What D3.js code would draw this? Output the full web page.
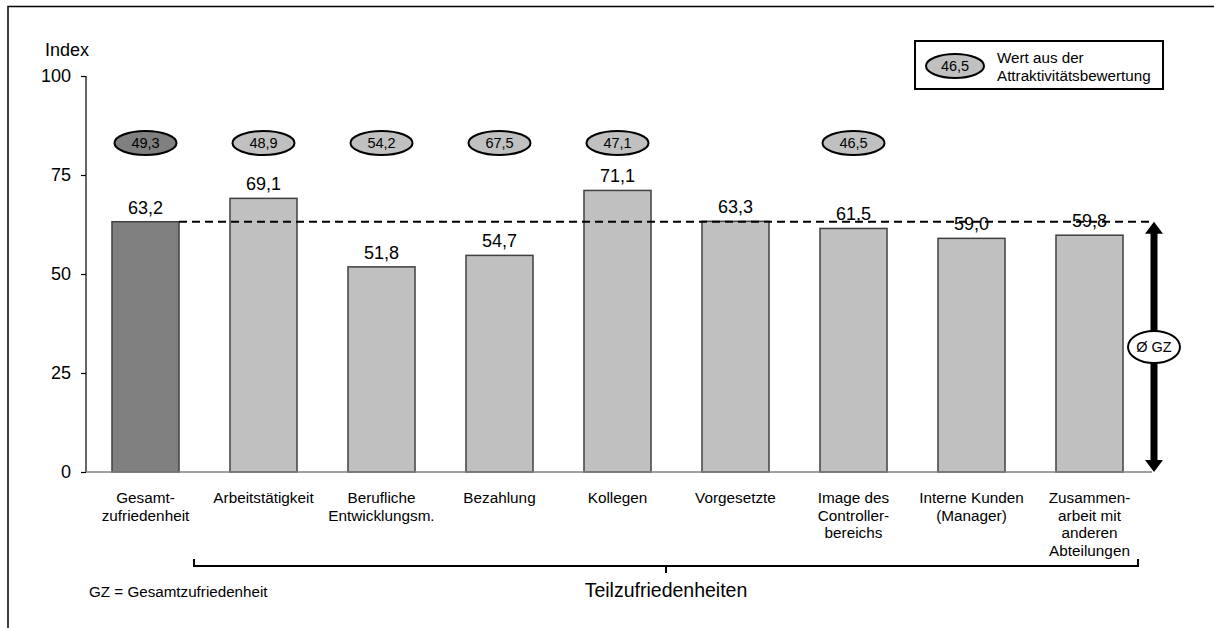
<!DOCTYPE html>
<html><head><meta charset="utf-8">
<script src="https://cdn.jsdelivr.net/npm/d3@7"></script>
<style>body{margin:0;background:#fff;} svg{display:block;font-family:"Liberation Sans",Arial,sans-serif;}</style>
</head><body>
<svg id="c" width="1214" height="628"></svg>
<script>
const categories = [
  ["Gesamt-","zufriedenheit"],
  ["Arbeitstätigkeit"],
  ["Berufliche","Entwicklungsm."],
  ["Bezahlung"],
  ["Kollegen"],
  ["Vorgesetzte"],
  ["Image des","Controller-","bereichs"],
  ["Interne Kunden","(Manager)"],
  ["Zusammen-","arbeit mit","anderen","Abteilungen"]
];
const keys = categories.map(c => c.join(" "));
const satisfaction = [63.2, 69.1, 51.8, 54.7, 71.1, 63.3, 61.5, 59.0, 59.8];
const attractiveness = [49.3, 48.9, 54.2, 67.5, 47.1, null, 46.5, null, null];
const yTicks = [0, 25, 50, 75, 100];
const avgGZ = 63.2;
const legendValue = 46.5;

const fmt = v => v.toFixed(1).replace(".", ",");
const svg = d3.select("#c");

const x = d3.scaleBand().domain(keys).range([86.5, 1148.5]).paddingInner(0.432).paddingOuter(0.216);
const y = d3.scaleLinear().domain([0, 100]).range([472, 76]);

// frame (left + top)
svg.append("path").attr("d","M8,628 V6.5 H1214").attr("fill","none").attr("stroke","#000").attr("stroke-width",1.5);

// axis
const yAxis = svg.append("g").attr("transform","translate(86,0)")
  .call(d3.axisLeft(y).tickValues(yTicks).tickSize(5).tickPadding(10).tickFormat(d3.format("d")));
yAxis.select(".domain").attr("d", `M-0,${y(100)}H0V${y(0)}`).attr("stroke","#000").attr("stroke-width",1.2);
yAxis.selectAll(".tick line").attr("stroke","#000").attr("stroke-width",1.2);
yAxis.selectAll(".tick text").attr("font-size",18).attr("fill","#000").attr("font-family","Liberation Sans, Arial, sans-serif");

svg.append("text").attr("x",45).attr("y",56).attr("font-size",18).text("Index");

// bars
svg.append("g").selectAll("rect").data(satisfaction).join("rect")
  .attr("x",(d,i)=>x(keys[i])).attr("width",x.bandwidth())
  .attr("y",d=>y(d)).attr("height",d=>y(0)-y(d))
  .attr("fill",(d,i)=> i===0 ? "#808080" : "#c0c0c0")
  .attr("stroke","#404040").attr("stroke-width",1.5);

// baseline
svg.append("line").attr("x1",86).attr("x2",1152).attr("y1",y(0)).attr("y2",y(0)).attr("stroke","#808080").attr("stroke-width",1.5);

// value labels
svg.append("g").selectAll("text").data(satisfaction).join("text")
  .attr("x",(d,i)=>x(keys[i])+x.bandwidth()/2).attr("y",d=>y(d)-8)
  .attr("text-anchor","middle").attr("font-size",18).text(d=>fmt(d));

// dashed average line
svg.append("line").attr("x1",x(keys[0])+x.bandwidth()).attr("x2",1152)
  .attr("y1",y(avgGZ)).attr("y2",y(avgGZ))
  .attr("stroke","#000").attr("stroke-width",2).attr("stroke-dasharray","8,5");

// attractiveness ellipses
const eg = svg.append("g");
attractiveness.forEach((v,i)=>{
  if (v === null) return;
  const cx = x(keys[i]) + x.bandwidth()/2;
  eg.append("ellipse").attr("cx",cx).attr("cy",143).attr("rx",31).attr("ry",12)
    .attr("fill", i===0 ? "#808080" : "#c0c0c0").attr("stroke","#000").attr("stroke-width",2);
  eg.append("text").attr("x",cx).attr("y",143).attr("dy","0.36em").attr("text-anchor","middle")
    .attr("font-size",14.5).text(fmt(v));
});

// category labels
const cg = svg.append("g");
categories.forEach((lines,i)=>{
  const t = cg.append("text").attr("x",x(keys[i])+x.bandwidth()/2).attr("y",503).attr("text-anchor","middle").attr("font-size",15.3);
  lines.forEach((l,j)=> t.append("tspan").attr("x",x(keys[i])+x.bandwidth()/2).attr("y",503+j*17.5).text(l));
});

// arrow
const ax = 1154, yt = y(avgGZ), yb = y(0);
svg.append("path").attr("d",
  `M${ax},${yt} L${ax+9},${yt+12} L${ax+3.5},${yt+12} L${ax+3.5},${yb-12} L${ax+9},${yb-12} L${ax},${yb} L${ax-9},${yb-12} L${ax-3.5},${yb-12} L${ax-3.5},${yt+12} L${ax-9},${yt+12} Z`)
  .attr("fill","#000");
svg.append("ellipse").attr("cx",ax).attr("cy",347).attr("rx",26).attr("ry",16).attr("fill","#fff").attr("stroke","#000").attr("stroke-width",2);
svg.append("text").attr("x",ax).attr("y",347).attr("dy","0.36em").attr("text-anchor","middle").attr("font-size",14.5).text("Ø GZ");

// bracket
const bx0 = 194, bx1 = 1138, by = 566, bmid = (bx0+bx1)/2;
svg.append("path").attr("d",`M${bx0},${by-7} V${by} H${bx1} V${by-7} M${bmid},${by} V${by+7}`)
  .attr("fill","none").attr("stroke","#000").attr("stroke-width",2);
svg.append("text").attr("x",bmid).attr("y",597).attr("text-anchor","middle").attr("font-size",19.5).text("Teilzufriedenheiten");
svg.append("text").attr("x",89).attr("y",597).attr("font-size",15.2).text("GZ = Gesamtzufriedenheit");

// legend
svg.append("rect").attr("x",915).attr("y",41).attr("width",248).attr("height",48).attr("fill","#fff").attr("stroke","#000").attr("stroke-width",2);
svg.append("ellipse").attr("cx",955).attr("cy",66).attr("rx",29).attr("ry",12).attr("fill","#c0c0c0").attr("stroke","#000").attr("stroke-width",2);
svg.append("text").attr("x",955).attr("y",66).attr("dy","0.36em").attr("text-anchor","middle").attr("font-size",14.5).text(fmt(legendValue));
svg.append("text").attr("x",997).attr("y",63).attr("font-size",15.2).text("Wert aus der");
svg.append("text").attr("x",997).attr("y",81).attr("font-size",15.2).text("Attraktivitätsbewertung");
</script>
</body></html>
